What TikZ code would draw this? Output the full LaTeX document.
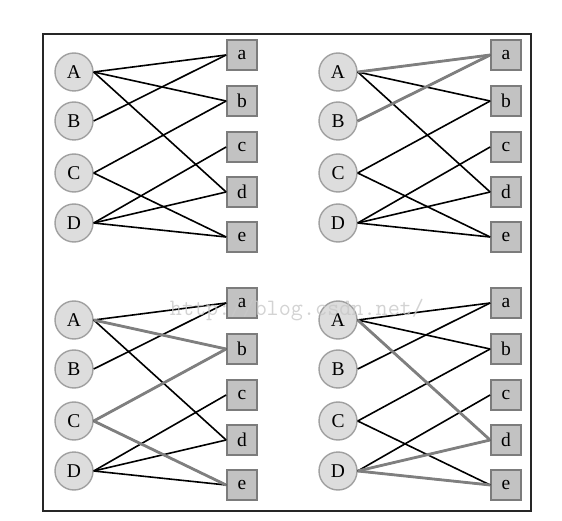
\documentclass[tikz,border=0pt]{standalone}
\usepackage{fontspec}
\setmainfont{Liberation Serif}
\definecolor{circfill}{HTML}{DDDDDD}
\definecolor{circline}{HTML}{A0A0A0}
\definecolor{boxfill}{HTML}{C2C2C2}
\definecolor{boxline}{HTML}{7C7C7C}
\definecolor{matchgray}{HTML}{7F7F7F}
\definecolor{markgray}{HTML}{C8C8C8}

\begin{document}
\begin{tikzpicture}[x=1pt, y=-1pt,
    every node/.style={font=\fontsize{19.5}{21}\selectfont},
    lnode/.style={circle, draw=circline, fill=circfill, line width=1.4pt, minimum size=38pt, inner sep=0pt},
    rnode/.style={rectangle, draw=boxline, fill=boxfill, line width=1.7pt, minimum size=30pt, inner sep=0pt},
    unmatched/.style={black, line width=1.6pt},
    matched/.style={matchgray, line width=2.8pt}]

    \useasboundingbox (0,0) rectangle (562,521);

    \def\lx{74}
    \def\rx{242}

    % frame
    \draw[line width=1.3pt, black!85] (43,34) rectangle (531,511);

    % four panels, shifted copies
    \foreach \p/\dx/\dy in {1/0/0, 2/264/0, 3/0/248, 4/264/248} {%
        \foreach \l/\y in {A/72, B/121, C/173, D/223} {%
            \node[lnode] (\l\p) at ({\lx+\dx}, {\y+\dy}) {\l};%
        }
        \foreach \r/\y in {a/55, b/101, c/147, d/192, e/237} {%
            \node[rnode] (\r\p) at ({\rx+\dx}, {\y+\dy}) {\r};%
        }
    }

    % same edges in every panel
    \foreach \u/\v in {A/a, A/b, A/d, B/a, C/b, C/e, D/c, D/d, D/e} {%
        \foreach \p in {1,...,4} {%
            \draw[unmatched] (\u\p.east) -- (\v\p.west);%
        }
    }

    % highlighted edges
    \draw[matched] (A2.east) -- (a2.west);
    \draw[matched] (B2.east) -- (a2.west);

    \draw[matched] (A3.east) -- (b3.west);
    \draw[matched] (C3.east) -- (b3.west);
    \draw[matched] (C3.east) -- (e3.west);

    \draw[matched] (A4.east) -- (d4.west);
    \draw[matched] (D4.east) -- (d4.west);
    \draw[matched] (D4.east) -- (e4.west);

    \node[anchor=base, text=markgray, opacity=0.8, font=\ttfamily\fontsize{23.5}{25}\selectfont] (mark) at (297,315) {http://blog.csdn.net/};

\end{tikzpicture}
\end{document}
